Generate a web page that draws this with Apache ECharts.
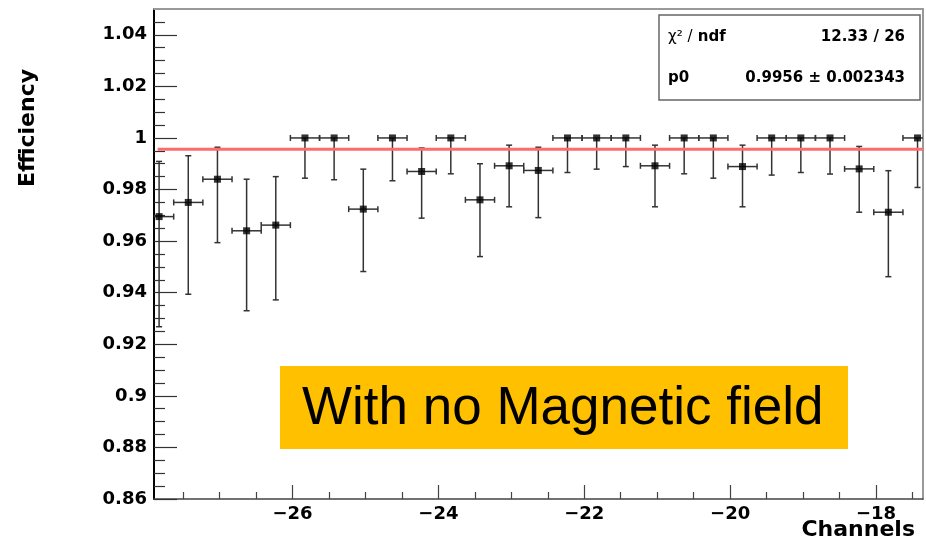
<!DOCTYPE html>
<html>
<head>
<meta charset="utf-8">
<script src="https://cdn.jsdelivr.net/npm/echarts@6/dist/echarts.min.js"></script>
<style>
html, body { margin: 0; padding: 0; background: #fff; }
#chart { width: 926px; height: 543px; }
</style>
</head>
<body>
<div id="chart"></div>
<script>
// bin centres (channels) and measured efficiency with asymmetric errors
var channels = [-27.83, -27.43, -27.03, -26.63, -26.23, -25.83, -25.43, -25.03, -24.63, -24.23,
    -23.83, -23.43, -23.03, -22.63, -22.23, -21.83, -21.43, -21.03, -20.63, -20.23,
    -19.83, -19.43, -19.03, -18.63, -18.23, -17.83, -17.43];
var efficiency = [0.9695, 0.975, 0.984, 0.964, 0.9662, 1, 1, 0.9724, 1, 0.987,
    1, 0.976, 0.9892, 0.9874, 1, 1, 1, 0.9892, 1, 1,
    0.9889, 1, 1, 1, 0.988, 0.9712, 1];
var errLow = [0.0427, 0.0356, 0.0246, 0.031, 0.029, 0.0156, 0.0162, 0.0242, 0.0166, 0.0181,
    0.0139, 0.022, 0.0159, 0.0183, 0.0134, 0.0121, 0.0111, 0.0159, 0.0139, 0.0156,
    0.0156, 0.0144, 0.0134, 0.014, 0.0168, 0.025, 0.0192];
var errHigh = [0.0214, 0.0181, 0.0124, 0.020, 0.0188, 0, 0, 0.0155, 0, 0.0091,
    0, 0.014, 0.008, 0.009, 0, 0, 0, 0.008, 0, 0,
    0.0083, 0, 0, 0, 0.0087, 0.0161, 0];
var binHalfWidth = 0.2;

// constant fit p0
var fitValue = 0.9956;
var fitRange = [-27.85, -17.355];

var xMajorTicks = [-26, -24, -22, -20, -18];
var xMinorTicks = [-27.5, -27, -26.5, -25.5, -25, -24.5, -23.5, -23, -22.5, -21.5, -21, -20.5,
    -19.5, -19, -18.5, -17.5];
var yMajorTicks = [0.86, 0.88, 0.9, 0.92, 0.94, 0.96, 0.98, 1, 1.02, 1.04];
var yMinorTicks = [0.865, 0.87, 0.875, 0.885, 0.89, 0.895, 0.905, 0.91, 0.915, 0.925, 0.93, 0.935,
    0.945, 0.95, 0.955, 0.965, 0.97, 0.975, 0.985, 0.99, 0.995, 1.005, 1.01, 1.015,
    1.025, 1.03, 1.035, 1.045];

var xMin = -27.9, xMax = -17.355;
var yMin = 0.86, yMax = 1.05;

var tickFont = 'DejaVu Sans';

var chart = echarts.init(document.getElementById('chart'));

function renderErrors(params, api) {
    var x = api.value(0), y = api.value(1), lo = api.value(2), hi = api.value(3);
    var c = api.coord([x, y]);
    var l = api.coord([x - binHalfWidth, y]);
    var r = api.coord([x + binHalfWidth, y]);
    var cap = 3;
    var st = { stroke: '#333', lineWidth: 1.5 };
    var kids = [
        { type: 'line', shape: { x1: l[0], y1: c[1], x2: r[0], y2: c[1] }, style: st },
        { type: 'line', shape: { x1: l[0], y1: c[1] - cap, x2: l[0], y2: c[1] + cap }, style: st },
        { type: 'line', shape: { x1: r[0], y1: c[1] - cap, x2: r[0], y2: c[1] + cap }, style: st }
    ];
    if (lo > 0) {
        var b = api.coord([x, y - lo]);
        kids.push({ type: 'line', shape: { x1: c[0], y1: c[1], x2: c[0], y2: b[1] }, style: st });
        kids.push({ type: 'line', shape: { x1: c[0] - cap, y1: b[1], x2: c[0] + cap, y2: b[1] }, style: st });
    }
    if (hi > 0) {
        var t = api.coord([x, y + hi]);
        kids.push({ type: 'line', shape: { x1: c[0], y1: c[1], x2: c[0], y2: t[1] }, style: st });
        kids.push({ type: 'line', shape: { x1: c[0] - cap, y1: t[1], x2: c[0] + cap, y2: t[1] }, style: st });
    }
    return { type: 'group', children: kids };
}

var errData = channels.map(function (x, i) { return [x, efficiency[i], errLow[i], errHigh[i]]; });
var pointData = channels.map(function (x, i) { return [x, efficiency[i]]; });

chart.setOption({
    animation: false,
    backgroundColor: '#fff',
    grid: { left: 154, right: 3, top: 9, bottom: 44, containLabel: false },
    xAxis: [
        {
            type: 'value', min: xMin, max: xMax, position: 'bottom',
            axisLine: { show: true, lineStyle: { color: '#444', width: 1.5 } },
            axisTick: { show: true, inside: true, length: 14, customValues: xMajorTicks, lineStyle: { color: '#444', width: 1.2 } },
            axisLabel: {
                customValues: xMajorTicks, margin: 6, color: '#000',
                fontFamily: tickFont, fontWeight: 'bold', fontSize: 18,
                formatter: function (v) { return (v < 0 ? '\u2212' : '') + Math.abs(v); }
            },
            splitLine: { show: false }
        },
        {
            type: 'value', min: xMin, max: xMax, position: 'bottom',
            axisLine: { show: false },
            axisTick: { show: true, inside: true, length: 7, customValues: xMinorTicks, lineStyle: { color: '#444', width: 1.2 } },
            axisLabel: { show: false }, splitLine: { show: false }
        },
        {
            type: 'value', min: xMin, max: xMax, position: 'top',
            axisLine: { show: true, lineStyle: { color: '#999', width: 2 } },
            axisTick: { show: false }, axisLabel: { show: false }, splitLine: { show: false }
        }
    ],
    yAxis: [
        {
            type: 'value', min: yMin, max: yMax, position: 'left',
            axisLine: { show: true, lineStyle: { color: '#000', width: 2 } },
            axisTick: { show: true, inside: true, length: 23, customValues: yMajorTicks, lineStyle: { color: '#333', width: 1.2 } },
            axisLabel: {
                customValues: yMajorTicks, margin: 7, color: '#000',
                fontFamily: tickFont, fontWeight: 'bold', fontSize: 18,
                formatter: function (v) { return String(+v.toFixed(2)); }
            },
            splitLine: { show: false }
        },
        {
            type: 'value', min: yMin, max: yMax, position: 'left',
            axisLine: { show: false },
            axisTick: { show: true, inside: true, length: 11, customValues: yMinorTicks, lineStyle: { color: '#333', width: 1.2 } },
            axisLabel: { show: false }, splitLine: { show: false }
        },
        {
            type: 'value', min: yMin, max: yMax, position: 'right',
            axisLine: { show: true, lineStyle: { color: '#999', width: 2 } },
            axisTick: { show: false }, axisLabel: { show: false }, splitLine: { show: false }
        }
    ],
    series: [
        {
            type: 'custom', renderItem: renderErrors, data: errData, clip: true,
            xAxisIndex: 0, yAxisIndex: 0, silent: true, z: 2
        },
        {
            type: 'line', data: [[fitRange[0], fitValue], [fitRange[1], fitValue]],
            symbol: 'none', lineStyle: { color: '#ff6b6b', width: 3 }, silent: true, z: 3
        },
        {
            type: 'scatter', data: pointData, symbol: 'rect', symbolSize: 7,
            itemStyle: { color: '#000' }, silent: true, z: 4
        }
    ],
    graphic: [
        {
            type: 'rect', shape: { x: 659, y: 15, width: 261, height: 85 },
            style: { fill: '#fff', stroke: '#666', lineWidth: 1.5 }, z: 10
        },
        {
            type: 'text', x: 668, y: 37, z: 11,
            style: {
                text: '{n|\u03c7\u00b2 /} ndf', font: 'bold 15px "DejaVu Sans"', fill: '#000', verticalAlign: 'middle',
                rich: { n: { font: '15px "DejaVu Sans"', fill: '#000' } }
            }
        },
        {
            type: 'text', x: 905, y: 37, z: 11,
            style: { text: '12.33 / 26', font: 'bold 15px "DejaVu Sans"', fill: '#000', align: 'right', verticalAlign: 'middle' }
        },
        {
            type: 'text', x: 668, y: 78, z: 11,
            style: { text: 'p0', font: 'bold 15px "DejaVu Sans"', fill: '#000', verticalAlign: 'middle' }
        },
        {
            type: 'text', x: 905, y: 78, z: 11,
            style: { text: '0.9956 \u00b1 0.002343', font: 'bold 15px "DejaVu Sans"', fill: '#000', align: 'right', verticalAlign: 'middle' }
        },
        {
            type: 'rect', shape: { x: 280, y: 366, width: 568, height: 83 },
            style: { fill: '#FFC000' }, z: 10
        },
        {
            type: 'text', x: 302, y: 409, z: 11,
            style: { text: 'With no Magnetic field', font: '53px "Liberation Sans"', fill: '#000', verticalAlign: 'middle' }
        },
        {
            type: 'text', x: 28, y: 128, rotation: Math.PI / 2, z: 11,
            style: { text: 'Efficiency', font: 'bold 22px "DejaVu Sans"', fill: '#000', align: 'center', verticalAlign: 'middle' }
        },
        {
            type: 'text', x: 915, y: 530, z: 11,
            style: { text: 'Channels', font: 'bold 22px "DejaVu Sans"', fill: '#000', align: 'right', verticalAlign: 'middle' }
        }
    ]
});
</script>
</body>
</html>
